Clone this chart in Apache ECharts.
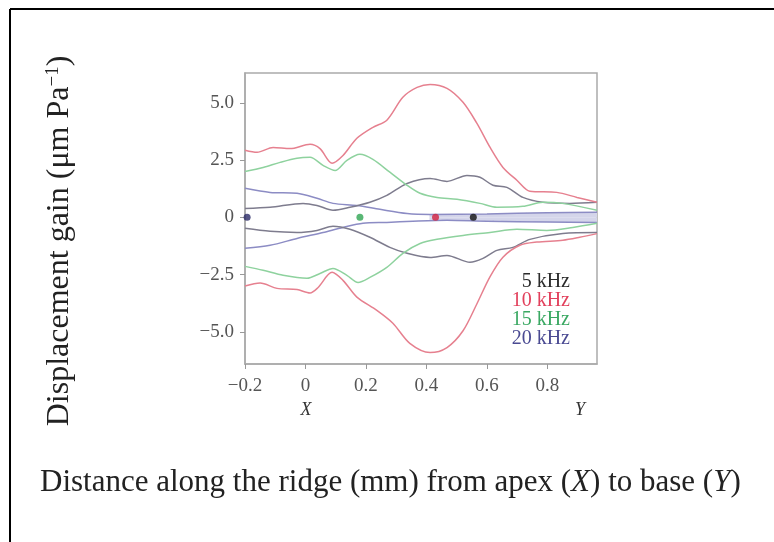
<!DOCTYPE html>
<html>
<head>
<meta charset="utf-8">
<script src="https://cdn.jsdelivr.net/npm/echarts@6/dist/echarts.min.js"></script>
<style>
  html, body { margin: 0; padding: 0; background: #fff; }
  #chart { width: 774px; height: 542px; }
</style>
</head>
<body>
<div id="chart"></div>
<script>
// 轴刻度
const xTicks = [-0.2, 0, 0.2, 0.4, 0.6, 0.8];
const yTicks = [-5, -2.5, 0, 2.5, 5];

// 各频率的包络线 [距离 mm, 增益]
const red10Upper = [[-0.2,2.93],[-0.16,2.84],[-0.107,3.05],[-0.051,3.0],[0.015,3.19],[0.048,3.0],[0.088,2.36],[0.124,2.7],[0.17,3.45],[0.223,3.93],[0.269,4.24],[0.322,5.24],[0.369,5.67],[0.412,5.8],[0.468,5.63],[0.521,5.02],[0.567,4.1],[0.61,3.06],[0.653,2.18],[0.699,1.62],[0.742,1.14],[0.831,1.09],[0.898,0.87],[0.964,0.66]];
const red10Lower = [[-0.2,-3.0],[-0.15,-2.87],[-0.094,-3.1],[-0.028,-3.15],[0.015,-3.3],[0.041,-3.07],[0.088,-2.4],[0.124,-2.75],[0.17,-3.48],[0.236,-4.06],[0.289,-4.62],[0.345,-5.5],[0.412,-5.9],[0.468,-5.68],[0.521,-4.95],[0.567,-3.77],[0.61,-2.6],[0.653,-1.74],[0.709,-1.22],[0.765,-1.08],[0.851,-1.0],[0.907,-0.87],[0.964,-0.71]];
const green15Upper = [[-0.2,2.0],[-0.14,2.18],[-0.084,2.4],[-0.028,2.58],[0.015,2.62],[0.058,2.27],[0.098,2.05],[0.137,2.49],[0.18,2.75],[0.223,2.53],[0.279,1.97],[0.336,1.4],[0.379,1.05],[0.435,0.87],[0.501,0.79],[0.577,0.61],[0.633,0.44],[0.719,0.48],[0.785,0.66],[0.851,0.61],[0.964,0.31]];
const green15Lower = [[-0.2,-2.14],[-0.14,-2.31],[-0.074,-2.53],[0.005,-2.66],[0.048,-2.45],[0.091,-2.23],[0.137,-2.53],[0.174,-2.84],[0.213,-2.62],[0.269,-2.18],[0.322,-1.57],[0.379,-1.14],[0.435,-0.96],[0.521,-0.79],[0.61,-0.66],[0.699,-0.52],[0.798,-0.57],[0.884,-0.44],[0.964,-0.26]];
const black5Upper = [[-0.2,0.39],[-0.117,0.44],[-0.008,0.61],[0.038,0.52],[0.091,0.31],[0.147,0.44],[0.213,0.66],[0.269,0.96],[0.336,1.48],[0.412,1.7],[0.468,1.57],[0.534,1.83],[0.577,1.75],[0.62,1.4],[0.666,1.31],[0.719,0.87],[0.785,0.66],[0.874,0.61],[0.964,0.66]];
const black5Lower = [[-0.2,-0.48],[-0.117,-0.61],[-0.028,-0.66],[0.038,-0.57],[0.091,-0.39],[0.147,-0.52],[0.213,-0.87],[0.279,-1.31],[0.336,-1.57],[0.412,-1.75],[0.468,-1.66],[0.544,-1.96],[0.587,-1.79],[0.633,-1.44],[0.686,-1.31],[0.742,-0.96],[0.851,-0.7],[0.964,-0.66]];
const blue20Upper = [[-0.2,1.27],[-0.117,1.09],[-0.028,1.05],[0.038,0.83],[0.091,0.61],[0.17,0.52],[0.246,0.35],[0.336,0.17],[0.412,0.13],[0.6,0.15],[0.8,0.2],[0.964,0.22]];
const blue20Lower = [[-0.2,-1.35],[-0.117,-1.22],[-0.028,-0.92],[0.058,-0.66],[0.124,-0.44],[0.19,-0.26],[0.269,-0.22],[0.355,-0.17],[0.468,-0.13],[0.6,-0.17],[0.8,-0.2],[0.964,-0.22]];

// 零线附近的浅色带
const bandUpper = [[0.41,0.1],[0.5,0.13],[0.6,0.15],[0.7,0.18],[0.8,0.2],[0.9,0.2],[0.964,0.22]];
const bandLower = [[0.41,-0.1],[0.5,-0.13],[0.6,-0.15],[0.7,-0.18],[0.8,-0.2],[0.9,-0.2],[0.964,-0.22]];

// 特征频率位置
const placeX = [-0.193, 0.18, 0.43, 0.555];
const placeColors = ["#2a2a66", "#2fa552", "#d2203f", "#111111"];

const legendNames = ["5 kHz", "10 kHz", "15 kHz", "20 kHz"];
const legendColors = ["#2b2b2b", "#e2405c", "#3aa862", "#4a4a92"];

const serif = "Liberation Serif";
let myChart = echarts.init(document.getElementById("chart"));

function fmt(v) {
  if (v === 0) return "0";
  return (v < 0 ? "\u2212" : "") + Math.abs(v).toFixed(1);
}

function envelope(name, data, color) {
  return {
    name: name,
    type: "line",
    data: data,
    smooth: 0.3,
    symbol: "none",
    lineStyle: { color: color, width: 1.5 },
    z: 3,
  };
}

function band(data) {
  return {
    type: "line",
    data: data,
    smooth: true,
    symbol: "none",
    lineStyle: { width: 0 },
    areaStyle: { color: "#d4d5ea", opacity: 1, origin: 0 },
    z: 2,
  };
}

let option = {
  backgroundColor: "#fff",
  animation: false,
  title: {
    left: 35,
    top: 462,
    text: "Distance along the ridge (mm) from apex ({i|X}) to base ({i|Y})",
    textStyle: {
      fontFamily: serif,
      fontSize: 31,
      fontWeight: "normal",
      color: "#222",
      rich: {
        i: { fontFamily: serif, fontSize: 31, fontStyle: "italic", color: "#222" },
      },
    },
  },
  grid: { left: 245, right: 177, top: 73, bottom: 178, show: true, borderColor: "#aaa", borderWidth: 1.5 },
  xAxis: {
    type: "value",
    min: -0.2,
    max: 0.964,
    axisLine: { show: true, onZero: false, lineStyle: { color: "#aaa", width: 1.5 } },
    axisTick: { show: true, length: 5, customValues: xTicks, lineStyle: { color: "#999" } },
    axisLabel: { customValues: xTicks, formatter: fmt, margin: 13, fontFamily: serif, fontSize: 19, color: "#555" },
    splitLine: { show: false },
  },
  yAxis: {
    type: "value",
    min: -6.4,
    max: 6.3,
    axisLine: { show: true, onZero: false, lineStyle: { color: "#aaa", width: 1.5 } },
    axisTick: { show: true, length: 5, customValues: yTicks, lineStyle: { color: "#999" } },
    axisLabel: { customValues: yTicks, formatter: fmt, margin: 11, fontFamily: serif, fontSize: 19, color: "#555" },
    splitLine: { show: false },
  },
  graphic: [
    { type: "line", shape: { x1: 10, y1: 9, x2: 774, y2: 9 }, style: { stroke: "#000", lineWidth: 2 } },
    { type: "line", shape: { x1: 10, y1: 9, x2: 10, y2: 542 }, style: { stroke: "#000", lineWidth: 2 } },
    {
      type: "text", x: 60, y: 241, rotation: Math.PI / 2,
      style: {
        text: "Displacement gain (\u03bcm Pa{s|\u22121})",
        fontFamily: serif, fontSize: 32, fill: "#222",
        align: "center", verticalAlign: "middle",
        rich: { s: { fontFamily: serif, fontSize: 19, fill: "#222", verticalAlign: "top", padding: [0, 0, 12, 0] } },
      },
    },
    { type: "text", x: 306, y: 410, style: { text: "X", fontFamily: serif, fontStyle: "italic", fontSize: 18, fill: "#333", align: "center", verticalAlign: "middle" } },
    { type: "text", x: 580, y: 410, style: { text: "Y", fontFamily: serif, fontStyle: "italic", fontSize: 18, fill: "#333", align: "center", verticalAlign: "middle" } },
  ].concat(legendNames.map(function (n, i) {
    return {
      type: "text", x: 570, y: 282 + i * 19, z: 10,
      style: { text: n, fontFamily: serif, fontSize: 20, fill: legendColors[i], align: "right", verticalAlign: "middle" },
    };
  })),
  series: [
    band(bandUpper),
    band(bandLower),
    envelope("20 kHz", blue20Upper, "#8c8cc4"),
    envelope("20 kHz", blue20Lower, "#8c8cc4"),
    envelope("5 kHz", black5Upper, "#7e7c8e"),
    envelope("5 kHz", black5Lower, "#7e7c8e"),
    envelope("15 kHz", green15Upper, "#8ed29e"),
    envelope("15 kHz", green15Lower, "#8ed29e"),
    envelope("10 kHz", red10Upper, "#e6808f"),
    envelope("10 kHz", red10Lower, "#e6808f"),
    {
      type: "scatter",
      symbolSize: 7,
      z: 5,
      data: placeX.map(function (x, i) {
        return { value: [x, 0], itemStyle: { color: placeColors[i] } };
      }),
    },
  ],
};
myChart.setOption(option);
window.onresize = myChart.resize;
</script>
</body>
</html>
